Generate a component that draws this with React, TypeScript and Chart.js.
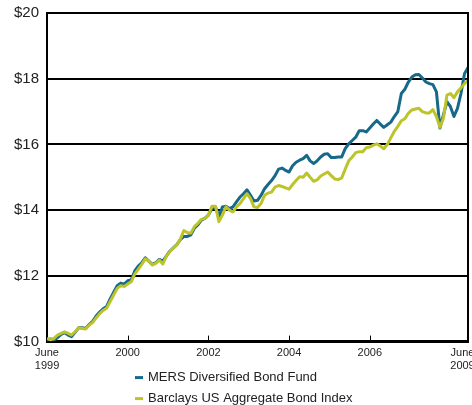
import React, { useEffect, useRef } from "react";
import { Chart, registerables } from "chart.js";

Chart.register(...registerables);

// Month index 0 = June 1999 ... 120 = June 2009
const MERS_FUND = [
  10.05, 10.08, 10.05, 10.12, 10.22, 10.27, 10.2, 10.15, 10.28, 10.42,
  10.42, 10.4, 10.52, 10.62, 10.78, 10.9, 11.0, 11.07, 11.3, 11.5,
  11.7, 11.78, 11.75, 11.85, 11.88, 12.15, 12.3, 12.4, 12.55, 12.45,
  12.35, 12.4, 12.5, 12.45, 12.6, 12.75, 12.85, 12.95, 13.1, 13.2,
  13.2, 13.25, 13.45, 13.55, 13.7, 13.75, 13.85, 14.05, 14.1, 13.8,
  14.1, 14.12, 14.05, 14.1, 14.25, 14.4, 14.5, 14.62, 14.45, 14.28,
  14.3, 14.45, 14.65, 14.78, 14.9, 15.05, 15.25, 15.28, 15.21, 15.16,
  15.35, 15.46, 15.52, 15.57, 15.67, 15.5, 15.42, 15.5, 15.62, 15.7,
  15.72, 15.6, 15.6, 15.62, 15.62, 15.87, 16.02, 16.12, 16.22, 16.42,
  16.42, 16.38, 16.5, 16.62, 16.73, 16.62, 16.52, 16.6, 16.68, 16.85,
  17.0, 17.55, 17.68, 17.9, 18.05, 18.12, 18.13, 18.02, 17.9, 17.85,
  17.82, 17.6, 16.5, 16.9, 17.3, 17.15, 16.85, 17.1, 17.55, 18.15,
  18.34,
];

const BARCLAYS_INDEX = [
  10.1, 10.05, 10.1, 10.2, 10.25, 10.3, 10.25, 10.2, 10.3, 10.42,
  10.4, 10.38, 10.5, 10.58, 10.72, 10.85, 10.95, 11.02, 11.22, 11.42,
  11.62, 11.7, 11.68, 11.75, 11.82, 12.05, 12.2, 12.35, 12.52, 12.45,
  12.33, 12.38, 12.48, 12.36, 12.6, 12.74, 12.85, 12.94, 13.12, 13.38,
  13.32, 13.3, 13.5, 13.6, 13.72, 13.75, 13.85, 14.12, 14.12, 13.65,
  13.85, 14.1, 14.0, 13.95, 14.1, 14.2, 14.35, 14.5, 14.35, 14.1,
  14.08, 14.2, 14.45, 14.52, 14.55, 14.7, 14.75, 14.72, 14.68, 14.64,
  14.78, 14.9, 15.02, 15.0, 15.13, 15.0, 14.88, 14.92, 15.04, 15.1,
  15.16, 15.05, 14.95, 14.93, 14.98, 15.25, 15.5, 15.62, 15.75, 15.78,
  15.78, 15.9, 15.92, 15.98, 16.02, 15.95, 15.87, 16.0, 16.2, 16.4,
  16.55, 16.72, 16.78, 16.95, 17.05, 17.08, 17.1, 17.0, 16.96, 16.96,
  17.06, 16.85, 16.52, 16.8, 17.5, 17.55, 17.42, 17.6, 17.72, 17.85,
  17.95,
];

const SERIES_NAMES = ["MERS Diversified Bond Fund", "Barclays US Aggregate Bond Index"];
const SERIES_COLORS = ["#17698a", "#bcc42a"];

const X_TICK_MONTHS = [0, 23, 46, 69, 92, 120];
const X_TICK_LABELS: (string | string[])[] = [["June", "1999"], "2000", "2002", "2004", "2006", ["June", "2009"]];
const INNER_TICK_MONTHS = [23, 46, 69, 92];

const Y_MIN = 10;
const Y_MAX = 20;
const Y_STEP = 2;

const FONT = "'Liberation Sans', Arial, Helvetica, sans-serif";

const framePlugin = {
  id: "frame",
  afterDatasetsDraw(chart: any) {
    const { ctx, chartArea } = chart;
    const { right, top, bottom } = chartArea;
    const x = chart.scales.x;
    ctx.save();
    ctx.strokeStyle = "#000";
    ctx.lineWidth = 2;
    ctx.beginPath();
    ctx.moveTo(right, top - 1);
    ctx.lineTo(right, bottom);
    ctx.stroke();
    ctx.lineWidth = 1;
    ctx.beginPath();
    INNER_TICK_MONTHS.forEach((m) => {
      const px = Math.round(x.getPixelForValue(m)) + 0.5;
      ctx.moveTo(px, bottom);
      ctx.lineTo(px, bottom - 6);
    });
    ctx.stroke();
    ctx.restore();
  },
};

const legendPlugin = {
  id: "customLegend",
  afterDraw(chart: any) {
    const { ctx, chartArea } = chart;
    ctx.save();
    ctx.font = `13px ${FONT}`;
    ctx.textBaseline = "middle";
    ctx.textAlign = "left";
    SERIES_NAMES.forEach((name, i) => {
      const y = chartArea.bottom + 36 + i * 21;
      ctx.strokeStyle = SERIES_COLORS[i];
      ctx.lineWidth = 3;
      ctx.beginPath();
      ctx.moveTo(135, y);
      ctx.lineTo(143, y);
      ctx.stroke();
      ctx.fillStyle = "#222";
      ctx.fillText(name, 148, y);
    });
    ctx.restore();
  },
};

export default function App() {
  const canvasRef = useRef<HTMLCanvasElement | null>(null);

  useEffect(() => {
    if (!canvasRef.current) return;
    const chart = new Chart(canvasRef.current, {
      type: "line",
      data: {
        datasets: [
          {
            label: SERIES_NAMES[0],
            data: MERS_FUND.map((v, i) => ({ x: i, y: v })),
            borderColor: SERIES_COLORS[0],
            borderWidth: 3,
            pointRadius: 0,
            tension: 0,
            borderJoinStyle: "round",
            order: 1,
          },
          {
            label: SERIES_NAMES[1],
            data: BARCLAYS_INDEX.map((v, i) => ({ x: i, y: v })),
            borderColor: SERIES_COLORS[1],
            borderWidth: 3,
            pointRadius: 0,
            tension: 0,
            borderJoinStyle: "round",
            order: 0,
          },
        ],
      },
      options: {
        animation: false,
        responsive: false,
        layout: { padding: { left: 6, right: 32, top: 8, bottom: 31 } },
        plugins: {
          legend: { display: false },
          tooltip: { enabled: false },
        },
        scales: {
          x: {
            type: "linear",
            min: 0,
            max: X_TICK_MONTHS[X_TICK_MONTHS.length - 1],
            afterBuildTicks: (scale: any) => {
              scale.ticks = X_TICK_MONTHS.map((v) => ({ value: v }));
            },
            ticks: {
              autoSkip: false,
              maxRotation: 0,
              padding: 5,
              color: "#222",
              font: { family: FONT, size: 11 },
              callback: (value: any, index: number) => {
                const idx = X_TICK_MONTHS.indexOf(Number(value));
                if (idx < 0) return "";
                const lab = X_TICK_LABELS[idx];
                // last label sits slightly left of the axis end, as in the original
                if (idx === X_TICK_LABELS.length - 1 && Array.isArray(lab)) {
                  return lab.map((s) => s + "\u2002\u2002");
                }
                return lab;
              },
            },
            grid: { display: true, drawOnChartArea: false, drawTicks: false },
            border: { display: true, color: "#000", width: 3 },
          },
          y: {
            min: Y_MIN,
            max: Y_MAX,
            ticks: {
              stepSize: Y_STEP,
              padding: 8,
              color: "#222",
              font: { family: FONT, size: 15 },
              callback: (value: any) => "$" + value,
            },
            grid: { color: "#000", lineWidth: 2, drawTicks: false },
            border: { display: true, color: "#000", width: 2 },
          },
        },
      },
      plugins: [framePlugin, legendPlugin],
    });
    return () => chart.destroy();
  }, []);

  return (
    <div
      style={{
        position: "fixed",
        left: 0,
        top: 0,
        width: 472,
        height: 405,
        overflow: "hidden",
        background: "#fff",
      }}
    >
      <canvas
        ref={canvasRef}
        width={500}
        height={413}
        style={{ display: "block", marginTop: -4 }}
      />
    </div>
  );
}
